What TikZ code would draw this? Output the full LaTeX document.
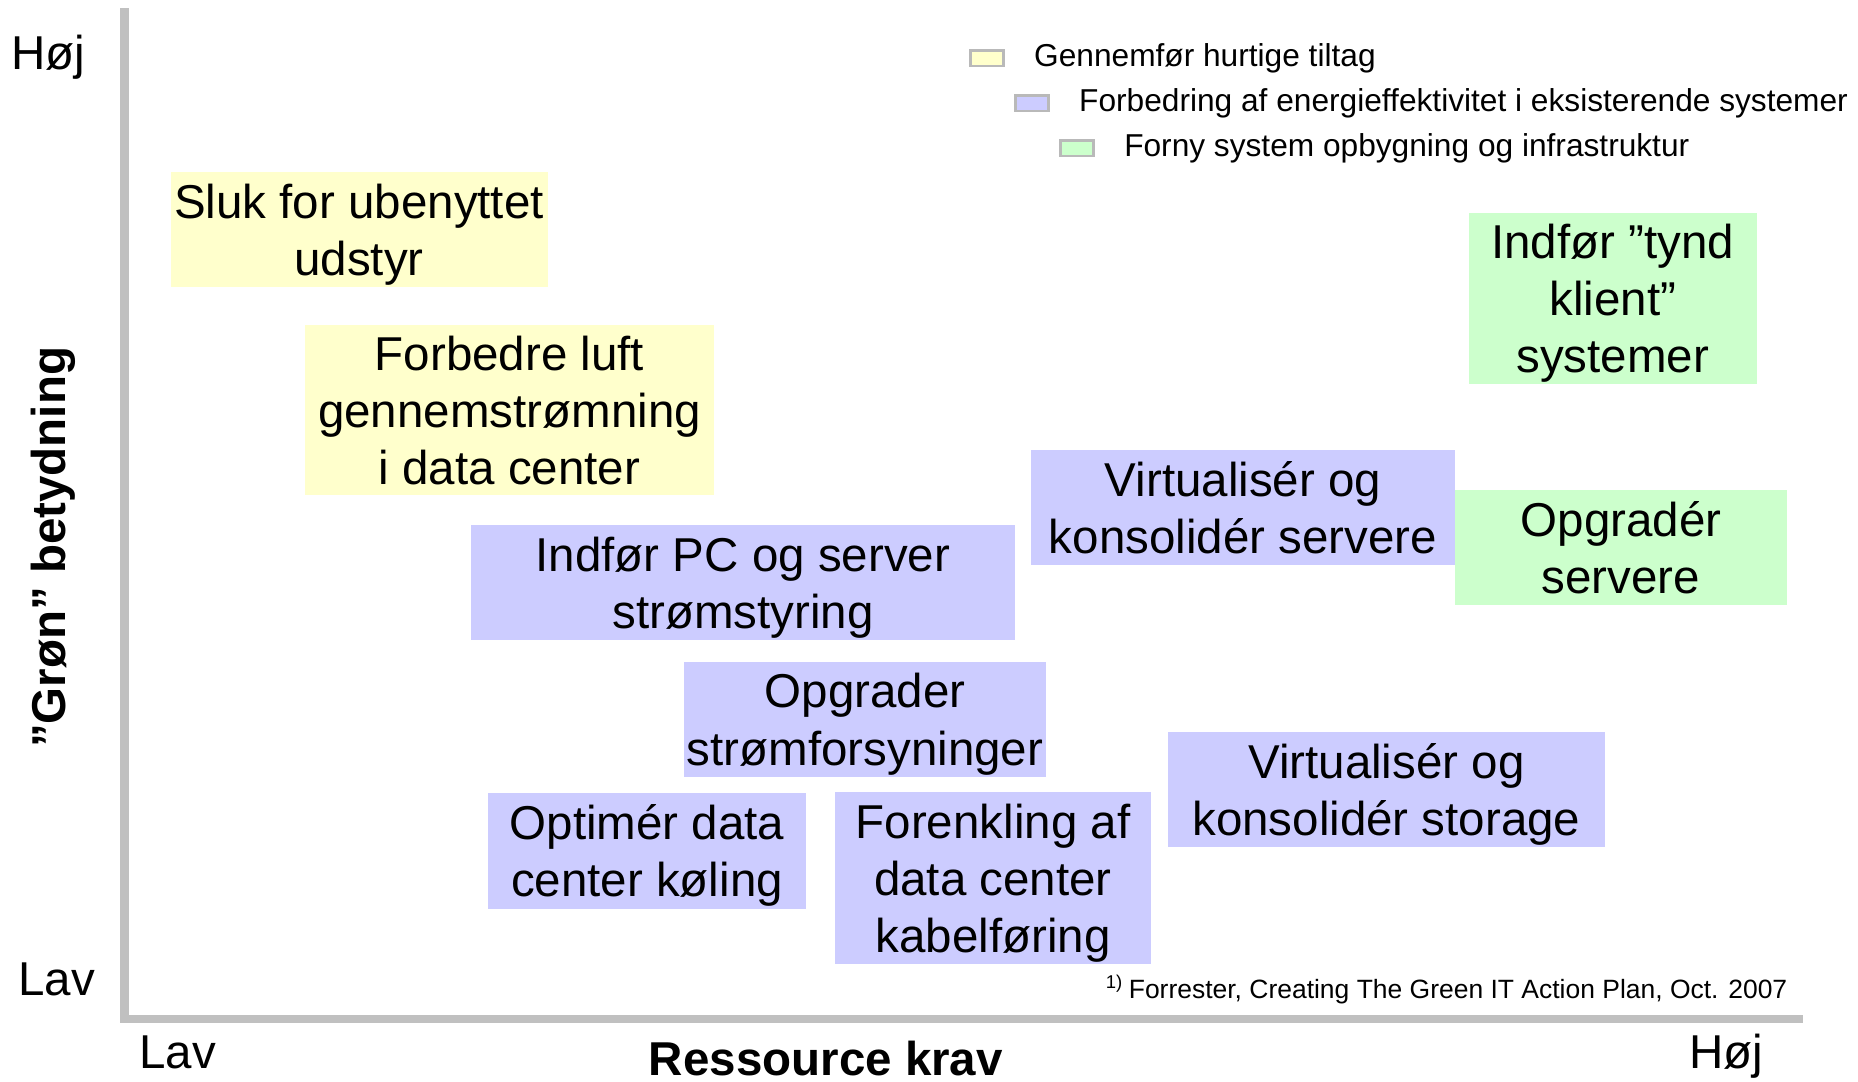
\documentclass[tikz,border=0pt]{standalone}
\usepackage{fontspec}
\setmainfont{Liberation Sans}
\usetikzlibrary{positioning}
\definecolor{gulfarve}{HTML}{FFFFCC}
\definecolor{blaafarve}{HTML}{CCCCFF}
\definecolor{groenfarve}{HTML}{CCFFCC}
\definecolor{aksefarve}{HTML}{C0C0C0}
\tikzset{
Boks/.style={
 inner sep=0pt,
 align=center,
 text depth=0pt,
 font=\fontsize{11.4}{13.7}\selectfont
 },
GulBoks/.style={Boks, fill=gulfarve},
BlaaBoks/.style={Boks, fill=blaafarve},
GroenBoks/.style={Boks, fill=groenfarve},
Akse/.style={
 draw=aksefarve,
 line width=2pt
 },
AkseTekst/.style={
 anchor=base,
 inner sep=0pt,
 font=\fontsize{11.4}{13.7}\selectfont
 },
Felt/.style={
 draw=gray!55,
 line width=0.6pt,
 minimum width=0.28cm,
 minimum height=0.13cm,
 inner sep=0pt
 },
FeltTekst/.style={
 inner sep=0pt,
 font=\fontsize{7.6}{9}\selectfont
 }
}
\begin{document}
\begin{tikzpicture}[x=0.01cm,y=-0.01cm]
\useasboundingbox (0,0) rectangle (1568,913);
% akser
\coordinate (top) at (105,7);
\coordinate (origo) at (105,860);
\coordinate (hoejre) at (1522,860);
\draw[Akse] (top) -- (origo) -- (hoejre);
\node[AkseTekst] (yhoej) at (41,59) {Høj};
\node[AkseTekst] (ylav) at (48,840) {Lav};
\node[AkseTekst] (xlav) at (150,902) {Lav};
\node[AkseTekst] (xhoej) at (1457,902) {Høj};
\node[AkseTekst,font=\fontsize{11.4}{13.7}\selectfont\bfseries] (xnavn) at (697,908) {Ressource krav};
\node[inner sep=0pt,rotate=90,font=\fontsize{11.4}{13.7}\selectfont\bfseries] (ynavn) at (45,462) {”Grøn” betydning};
% forklaring
\node[Felt,fill=gulfarve] (felt1) at (833,49) {};
\node[FeltTekst,right=0.24cm of felt1] (tekst1) {Gennemfør hurtige tiltag};
\node[Felt,fill=blaafarve] (felt2) at (871,87) {};
\node[FeltTekst,right=0.24cm of felt2] (tekst2) {Forbedring af energieffektivitet i eksisterende systemer};
\node[Felt,fill=groenfarve] (felt3) at (909,125) {};
\node[FeltTekst,right=0.24cm of felt3] (tekst3) {Forny system opbygning og infrastruktur};
% tiltag
\node[GulBoks,minimum width=3.18cm,minimum height=0.97cm] (sluk) at (303,194) {Sluk for ubenyttet\\udstyr};
\node[GulBoks,minimum width=3.45cm,minimum height=1.44cm] (luft) at (430,346) {Forbedre luft\\gennemstrømning\\i data center};
\node[BlaaBoks,minimum width=4.59cm,minimum height=0.97cm] (styring) at (627,492) {Indfør PC og server\\strømstyring};
\node[BlaaBoks,minimum width=3.57cm,minimum height=0.97cm] (servere) at (1049,428) {Virtualisér og\\konsolidér servere};
\node[GroenBoks,minimum width=2.43cm,minimum height=1.44cm] (klient) at (1361,252) {Indfør ”tynd\\klient”\\systemer};
\node[GroenBoks,minimum width=2.80cm,minimum height=0.97cm] (opgrad) at (1368,462) {Opgradér\\servere};
\node[BlaaBoks,minimum width=3.06cm,minimum height=0.97cm] (forsyning) at (730,607) {Opgrader\\strømforsyninger};
\node[BlaaBoks,minimum width=3.69cm,minimum height=0.97cm] (storage) at (1170,666) {Virtualisér og\\konsolidér storage};
\node[BlaaBoks,minimum width=2.68cm,minimum height=0.98cm] (koeling) at (546,718) {Optimér data\\center køling};
\node[BlaaBoks,minimum width=2.67cm,minimum height=1.45cm] (kabel) at (838,741) {Forenkling af\\data center\\kabelføring};
% kilde
\node[FeltTekst,anchor=east,font=\fontsize{6.35}{7.5}\selectfont] (kilde) at (1509,835) {\textsuperscript{1)}\,Forrester, Creating The Green IT Action Plan, Oct. 2007};
\end{tikzpicture}
\end{document}
